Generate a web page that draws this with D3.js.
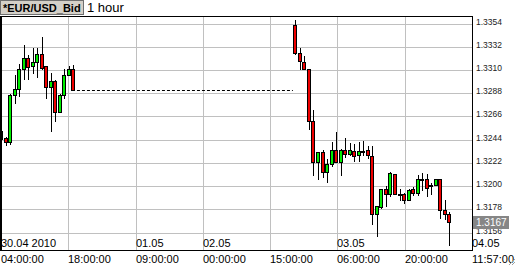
<!DOCTYPE html>
<html>
<head>
<meta charset="utf-8">
<script src="https://cdn.jsdelivr.net/npm/d3@7"></script>
<style>
  body { margin: 0; background: #fff; }
  svg { display: block; font-family: "Liberation Sans", Arial, sans-serif; }
</style>
</head>
<body>
<svg id="chart" width="516" height="265"></svg>
<script>
// hourly candles, hour 0 = 30.04 04:00
const hours = [0, 1, 2, 3, 4, 5, 6, 7, 8, 9, 10, 11, 12, 13, 14, 15, 16,
  65, 66, 67, 68, 69, 70, 71, 72, 73, 74, 75, 76, 77, 78, 79, 80, 81, 82,
  83, 84, 85, 86, 87, 88, 89, 90, 91, 92, 93, 94, 95, 96, 97, 98, 99];

const opens = [1.32531, 1.32465, 1.32424, 1.32876, 1.32926, 1.33123, 1.33227, 1.33147, 1.33185,
  1.33265, 1.33145, 1.32948, 1.33009, 1.32711, 1.32870, 1.33066, 1.33123,
  1.33533, 1.33271, 1.33180, 1.33116, 1.32623, 1.32234, 1.32336, 1.32146, 1.32222, 1.32355,
  1.32234, 1.32355, 1.32317, 1.32341, 1.32301, 1.32345, 1.32348, 1.32291, 1.31741, 1.31810,
  1.31978, 1.31931, 1.32127, 1.31937, 1.31931, 1.31880, 1.31978, 1.31947, 1.32075, 1.32073,
  1.32018, 1.32016, 1.32073, 1.31786, 1.31741];

const highs = [1.32547, 1.32471, 1.32886, 1.33066, 1.33164, 1.33344, 1.33249, 1.33322, 1.33322,
  1.33420, 1.33145, 1.33078, 1.33012, 1.32879, 1.33123, 1.33147, 1.33157,
  1.33581, 1.33322, 1.33242, 1.33116, 1.32727, 1.32336, 1.32348, 1.32269, 1.32427, 1.32525,
  1.32364, 1.32465, 1.32414, 1.32411, 1.32430, 1.32436, 1.32393, 1.32393, 1.31817, 1.31985,
  1.32009, 1.32142, 1.32127, 1.31985, 1.31940, 1.31983, 1.32000, 1.32111, 1.32133, 1.32120,
  1.32038, 1.32080, 1.32073, 1.31880, 1.31763];

const lows = [1.32433, 1.32402, 1.32408, 1.32800, 1.32863, 1.33028, 1.33021, 1.33085, 1.33043,
  1.33116, 1.32844, 1.32531, 1.32623, 1.32708, 1.32844, 1.33066, 1.32920,
  1.33256, 1.33116, 1.33116, 1.32554, 1.32118, 1.32073, 1.32099, 1.32047, 1.32199, 1.32234,
  1.32118, 1.32284, 1.32301, 1.32247, 1.32247, 1.32303, 1.32279, 1.31653, 1.31532, 1.31805,
  1.31824, 1.31918, 1.31931, 1.31874, 1.31848, 1.31874, 1.31928, 1.31921, 1.31969, 1.31915,
  1.31937, 1.32016, 1.31710, 1.31700, 1.31447];

const closes = [1.32459, 1.32430, 1.32876, 1.32926, 1.33123, 1.33227, 1.33138, 1.33185, 1.33265,
  1.33132, 1.32948, 1.33009, 1.32711, 1.32876, 1.33066, 1.33123, 1.32920,
  1.33271, 1.33195, 1.33116, 1.32623, 1.32234, 1.32336, 1.32146, 1.32222, 1.32355, 1.32234,
  1.32355, 1.32317, 1.32355, 1.32291, 1.32341, 1.32345, 1.32301, 1.31741, 1.31817, 1.31985,
  1.31931, 1.32133, 1.31931, 1.31937, 1.31874, 1.31969, 1.31947, 1.32080, 1.32075, 1.31994,
  1.32018, 1.32073, 1.31786, 1.31741, 1.31670];

// weekend gap (no quotes), drawn dashed at the last Friday close
const gapFrom = 16, gapTo = 65;

const priceTicks = [1.3354, 1.3332, 1.3310, 1.3288, 1.3266, 1.3244, 1.3222, 1.3200, 1.3178, 1.3156];
const timeLabels = ["04:00:00", "18:00:00", "09:00:00", "00:00:00", "15:00:00", "06:00:00", "20:00:00", "11:57:00"];
const dateLabels = ["30.04 2010", "", "01.05", "02.05", "", "03.05", "", "04.05"];
const lastPrice = 1.3167;

const svg = d3.select("#chart");
const plotLeft = 1, plotRight = 472, plotTop = 16, plotBottom = 250;

const x = d3.scaleLinear().domain([0, 104]).range([plotLeft, plotRight]);
const y = d3.scaleLinear().domain([1.3156, 1.3354]).range([233.5, 24.5]);
const gridX = d3.range(timeLabels.length).map(i => i * 104 / (timeLabels.length - 1));

// title
svg.append("rect").attr("x", 0.5).attr("y", 0.5).attr("width", 83).attr("height", 14)
  .attr("fill", "#d4d0c8").attr("stroke", "#6f6f6f");
svg.append("text").attr("x", 3).attr("y", 12).attr("font-size", 11).attr("font-weight", "bold")
  .text("*EUR/USD_Bid");
svg.append("text").attr("x", 87).attr("y", 12).attr("font-size", 13).text("1 hour");

// grid
svg.append("g").selectAll("line").data(priceTicks).enter().append("line")
  .attr("x1", plotLeft).attr("x2", plotRight)
  .attr("y1", d => Math.round(y(d)) - 0.5).attr("y2", d => Math.round(y(d)) - 0.5)
  .attr("stroke", "#c0c0c0");
svg.append("g").selectAll("line").data(gridX).enter().append("line")
  .attr("x1", d => Math.round(x(d)) + 0.5).attr("x2", d => Math.round(x(d)) + 0.5)
  .attr("y1", plotTop).attr("y2", plotBottom)
  .attr("stroke", "#c0c0c0");

// date labels inside the plot
svg.append("g").selectAll("text").data(gridX).enter().append("text")
  .attr("x", d => Math.round(x(d)))
  .attr("y", 247)
  .attr("font-size", 11)
  .text((d, i) => dateLabels[i]);

// gap line
const gapPrice = closes[hours.indexOf(gapFrom)];
svg.append("line")
  .attr("x1", x(gapFrom) + 3.5).attr("x2", x(gapTo) - 2.5)
  .attr("y1", Math.round(y(gapPrice)) + 0.5).attr("y2", Math.round(y(gapPrice)) + 0.5)
  .attr("stroke", "#000").attr("stroke-dasharray", "3,2");

// candles
const candles = hours.map((h, i) => ({ h, o: opens[i], hi: highs[i], lo: lows[i], c: closes[i] }));
const g = svg.append("g");
candles.forEach(d => {
  const px = Math.round(x(d.h));
  g.append("line")
    .attr("x1", px + 0.5).attr("x2", px + 0.5)
    .attr("y1", Math.round(y(d.hi))).attr("y2", Math.round(y(d.lo)) + 1)
    .attr("stroke", "#000");
  const yTop = Math.round(y(Math.max(d.o, d.c)));
  const yBot = Math.round(y(Math.min(d.o, d.c)));
  const fill = d.c > d.o ? "#00ee00" : d.c < d.o ? "#ee0000" : "#000";
  g.append("rect")
    .attr("x", px - 1.5).attr("width", 3)
    .attr("y", yTop + 0.5).attr("height", Math.max(yBot - yTop, 1))
    .attr("fill", fill).attr("stroke", "#000");
});

// frame
svg.append("line").attr("x1", 0).attr("x2", plotRight + 1).attr("y1", plotTop + 0.5).attr("y2", plotTop + 0.5).attr("stroke", "#000");
svg.append("line").attr("x1", 0).attr("x2", plotRight + 1).attr("y1", plotBottom + 0.5).attr("y2", plotBottom + 0.5).attr("stroke", "#000");
svg.append("line").attr("x1", 1).attr("x2", 1).attr("y1", plotTop).attr("y2", plotBottom + 1).attr("stroke", "#000").attr("stroke-width", 2);
svg.append("line").attr("x1", plotRight + 0.5).attr("x2", plotRight + 0.5).attr("y1", plotTop).attr("y2", plotBottom + 1).attr("stroke", "#000");

// time axis labels
svg.append("g").selectAll("text").data(gridX).enter().append("text")
  .attr("x", d => Math.round(x(d)))
  .attr("y", 263)
  .attr("font-size", 11)
  .text((d, i) => timeLabels[i]);

// price axis labels
svg.append("g").selectAll("text").data(priceTicks).enter().append("text")
  .attr("x", 476)
  .attr("y", d => Math.round(y(d)))
  .attr("font-size", 8.5)
  .attr("fill", "#222")
  .text(d => d.toFixed(4));

// last price marker
const ly = Math.round(y(lastPrice));
svg.append("rect").attr("x", 473).attr("y", ly - 6).attr("width", 36).attr("height", 13)
  .attr("fill", "#868686");
svg.append("text").attr("x", 476).attr("y", ly + 4).attr("font-size", 10).attr("fill", "#fff")
  .text(lastPrice.toFixed(4));

// resize grip
svg.append("g").attr("stroke", "#a0a0a0").selectAll("line").data([0, 3]).enter().append("line")
  .attr("x1", d => 509 + d).attr("y1", 265).attr("x2", 515).attr("y2", d => 259 + d);
</script>
</body>
</html>
